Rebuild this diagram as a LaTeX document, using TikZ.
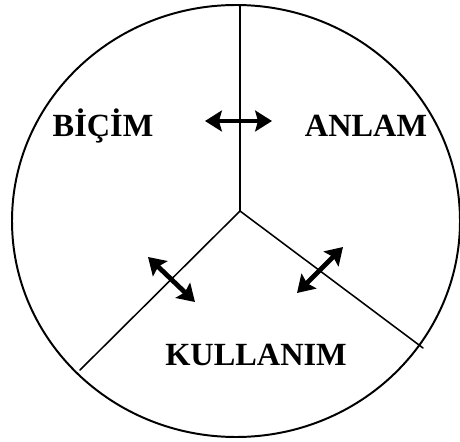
\documentclass[tikz,border=0pt]{standalone}
\usepackage{fontspec}
\setmainfont{Liberation Serif}
\usetikzlibrary{arrows.meta}
\tikzset{
  every picture/.style={line cap=round, line join=round},
  rim/.style={line width=1.4pt},
  divider/.style={line width=1.1pt},
  link/.style={{Stealth[length=0.42cm, width=0.52cm, inset=0.07cm]}-{Stealth[length=0.42cm, width=0.52cm, inset=0.07cm]}, line width=3.4pt, line cap=butt},
  region/.style={font=\fontsize{23}{27}\selectfont\bfseries, inner sep=0pt, anchor=base},
}
\begin{document}
\begin{tikzpicture}
  \useasboundingbox (0,0) rectangle (11.5,11.025);
  % outer circle
  \draw[rim] (5.9,5.5) ellipse [x radius=5.6, y radius=5.4];
  % dividers from the hub to the rim
  \coordinate (hub) at (6.0,5.75);
  \coordinate (top) at (6.0,10.9);
  \coordinate (lowleft) at (2.0,1.775);
  \coordinate (lowright) at (10.575,2.325);
  \draw[divider] (hub) -- (top);
  \draw[divider] (hub) -- (lowleft);
  \draw[divider] (hub) -- (lowright);
  % region labels
  \node[region] (bicim) at (2.575,7.6) {BİÇİM};
  \node[region] (anlam) at (9.15,7.6) {ANLAM};
  \node[region] (kullanim) at (6.4,1.9) {KULLANIM};
  % double arrows across the dividers
  \coordinate (ba1) at (5.125,8.0);
  \coordinate (ba2) at (6.8,8.0);
  \coordinate (bk1) at (3.7,4.6);
  \coordinate (bk2) at (4.875,3.475);
  \coordinate (ak1) at (8.575,4.85);
  \coordinate (ak2) at (7.425,3.7);
  \draw[link] (ba1) -- (ba2);
  \draw[link] (bk1) -- (bk2);
  \draw[link] (ak1) -- (ak2);
\end{tikzpicture}
\end{document}
